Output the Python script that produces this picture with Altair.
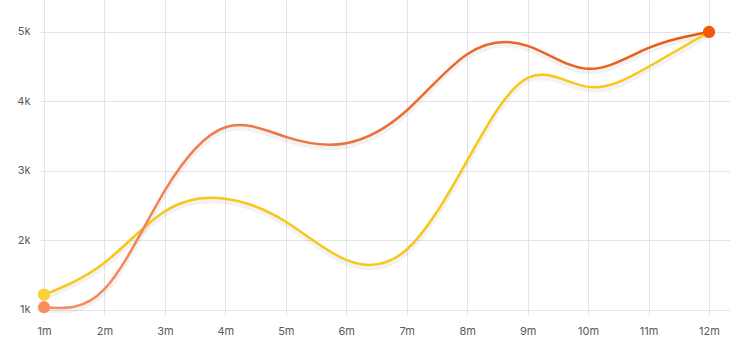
import altair as alt
import pandas as pd

months = [1, 2, 3, 4, 5, 6, 7, 8, 9, 10, 11, 12]
orange_vals = [1.04, 1.30, 2.72, 3.63, 3.49, 3.40, 3.87, 4.68, 4.80, 4.47, 4.77, 5.0]
yellow_vals = [1.22, 1.68, 2.42, 2.60, 2.27, 1.72, 1.87, 3.15, 4.34, 4.21, 4.5, 5.0]
y_ticks = [1, 2, 3, 4, 5]

df_o = pd.DataFrame({"m": months, "v": orange_vals})
df_y = pd.DataFrame({"m": months, "v": yellow_vals})

xs = alt.Scale(domain=[0.934, 12.347], nice=False, zero=False)
ys = alt.Scale(domain=[0.928, 5.46], nice=False, zero=False)

X = alt.X("m:Q", scale=xs, axis=alt.Axis(values=months, labelExpr="datum.value + 'm'",
                                          title=None, grid=True, gridColor="#e4e3ea", domain=False,
                                          ticks=False, labelPadding=10, labelFont="Inter",
                                          labelFontSize=11, labelColor="#5a5a5a"))
Y = alt.Y("v:Q", scale=ys, axis=alt.Axis(values=y_ticks, labelExpr="datum.value + 'k'",
                                         title=None, grid=True, gridColor="#e4e3ea", domain=False,
                                         ticks=False, labelPadding=10, labelFont="Inter",
                                         labelFontSize=11, labelColor="#5a5a5a"))

interp = "natural"

shadow_y = alt.Chart(df_y).mark_line(interpolate=interp, color="#000", opacity=0.05,
                                     strokeWidth=5, yOffset=3).encode(x=X, y=Y)
shadow_o = alt.Chart(df_o).mark_line(interpolate=interp, color="#000", opacity=0.05,
                                     strokeWidth=5, yOffset=3).encode(x=X, y=Y)

line_y = alt.Chart(df_y).mark_line(interpolate=interp, color="#f7c816", strokeWidth=2.5).encode(x=X, y=Y)
line_o = alt.Chart(df_o).mark_line(
    interpolate=interp, strokeWidth=2.5,
    stroke=alt.Gradient(gradient="linear", x1=0, x2=1, y1=0, y2=0,
                        stops=[alt.GradientStop(offset=0, color="#f89066"),
                               alt.GradientStop(offset=0.35, color="#ef7443"),
                               alt.GradientStop(offset=1, color="#e8590e")])
).encode(x=X, y=Y)

pts_y = alt.Chart(df_y[df_y.m.isin([1, 12])]).mark_circle(size=150, opacity=1, color="#fbd03a").encode(x=X, y=Y)
pt_o_start = alt.Chart(df_o[df_o.m == 1]).mark_circle(size=150, opacity=1, color="#f98e62").encode(x=X, y=Y)
pt_o_end = alt.Chart(df_o[df_o.m == 12]).mark_circle(size=150, opacity=1, color="#ef5b0a").encode(x=X, y=Y)

chart = alt.layer(shadow_y, shadow_o, line_y, line_o, pts_y, pt_o_start, pt_o_end).properties(
    width=690, height=315,
    autosize=alt.AutoSizeParams(type="none"),
    padding={"left": 40, "top": 0, "right": 0, "bottom": 40},
).configure_view(stroke=None)

chart.save("out.html", embed_options={"renderer": "svg", "actions": False})
